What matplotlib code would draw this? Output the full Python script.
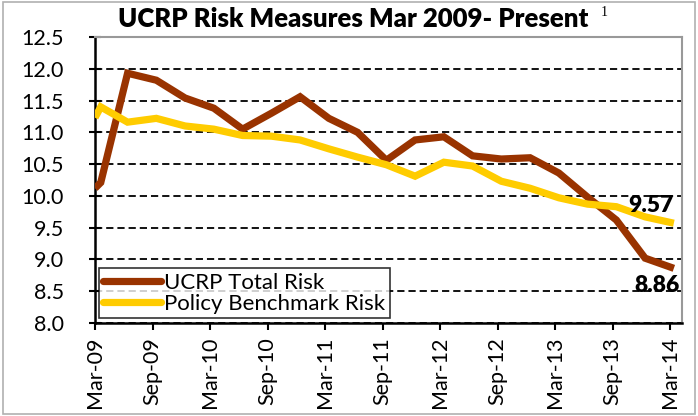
import matplotlib
matplotlib.use("Agg")
import matplotlib.pyplot as plt
from matplotlib.patches import Rectangle

# Data: x as months since Mar-2009
months = [0, 0.6, 3.4, 6.4, 9.4, 12.4, 15.4, 18.4, 21.4, 24.4, 27.4, 30.4,
          33.4, 36.4, 39.4, 42.4, 45.4, 48.4, 51.4, 54.4, 57.4, 60.4]
ucrp_total = [10.12, 10.21, 11.93, 11.82, 11.54, 11.38, 11.05, 11.30, 11.56, 11.22, 11.00, 10.56,
              10.88, 10.93, 10.63, 10.58, 10.60, 10.36, 9.98, 9.62, 9.02, 8.86]
policy_bench = [11.23, 11.40, 11.16, 11.22, 11.10, 11.05, 10.95, 10.94, 10.88, 10.74, 10.61, 10.49,
                10.31, 10.53, 10.47, 10.23, 10.12, 9.97, 9.87, 9.83, 9.67, 9.57]
tick_months = [0, 6, 12, 18, 24, 30, 36, 42, 48, 54, 60]
tick_labels = ["Mar-09", "Sep-09", "Mar-10", "Sep-10", "Mar-11", "Sep-11",
               "Mar-12", "Sep-12", "Mar-13", "Sep-13", "Mar-14"]
y_ticks = [8.0, 8.5, 9.0, 9.5, 10.0, 10.5, 11.0, 11.5, 12.0, 12.5]
series_names = ["UCRP Total Risk", "Policy Benchmark Risk"]
end_labels = ["8.86", "9.57"]

FONT = "Lato"
plt.rcParams['font.family'] = [FONT, 'DejaVu Sans']

W, H = 698, 416
fig = plt.figure(figsize=(W / 100, H / 100), dpi=100)
fig.patch.set_facecolor("white")
fig.patches.append(Rectangle((0.004, 0.004), 0.992, 0.992, transform=fig.transFigure,
                             fill=False, edgecolor="#b0b0b0", linewidth=1.2))

ax = fig.add_axes([95 / W, 1 - 323 / H, (682 - 95) / W, (323 - 37) / H])

brown = "#993300"
yellow = "#FFCC00"
ax.plot(months, ucrp_total, color=brown, linewidth=5.2, label=series_names[0],
        solid_joinstyle="miter", solid_capstyle="butt", zorder=3)
ax.plot(months, policy_bench, color=yellow, linewidth=5.2, label=series_names[1],
        solid_joinstyle="miter", solid_capstyle="butt", zorder=3)

ax.set_xlim(0, 61.25)
ax.set_ylim(8.0, 12.5)
ax.set_yticks(y_ticks)
ax.set_yticklabels([f"{v:.1f}" for v in y_ticks], fontsize=15.5)
ax.set_xticks(tick_months)
ax.set_xticklabels(tick_labels, rotation=90, fontsize=15.5)

ax.yaxis.grid(True, color="black", linestyle=(0, (4, 2.2)), linewidth=1.3)
ax.set_axisbelow(True)

for s in ["top", "right"]:
    ax.spines[s].set_color("#999999")
    ax.spines[s].set_linewidth(1.5)
for s in ["left", "bottom"]:
    ax.spines[s].set_color("black")
    ax.spines[s].set_linewidth(1.8)

ax.tick_params(axis="y", direction="inout", length=9, width=1.5, pad=18)
ax.tick_params(axis="x", direction="out", length=5, width=1.5, pad=5)

leg = ax.legend(loc="lower left", bbox_to_anchor=(0.006, 0.017), borderaxespad=0,
                fontsize=16, handlelength=2.6, handletextpad=0.15, labelspacing=0.05,
                borderpad=0.2, frameon=True, fancybox=False)
leg.get_frame().set_edgecolor("black")
leg.get_frame().set_linewidth(1.2)
for h in leg.get_lines():
    h.set_solid_capstyle("round")

ax.annotate(end_labels[1], xy=(months[-1], policy_bench[-1]), xytext=(0, 13),
            textcoords="offset points", ha="right", va="center",
            fontsize=16.5, fontweight="heavy")
ax.annotate(end_labels[0], xy=(months[-1], ucrp_total[-1]), xytext=(4, -12),
            textcoords="offset points", ha="right", va="center",
            fontsize=16.5, fontweight="heavy")

fig.text(353 / W, 1 - 19 / H, "UCRP Risk Measures Mar 2009- Present", ha="center",
         va="center", fontsize=18.5, fontweight="heavy")
fig.text(601 / W, 1 - 12 / H, "1", ha="left", va="center", fontsize=10,
         family="Liberation Serif")

fig.savefig("out.png", dpi=100)
